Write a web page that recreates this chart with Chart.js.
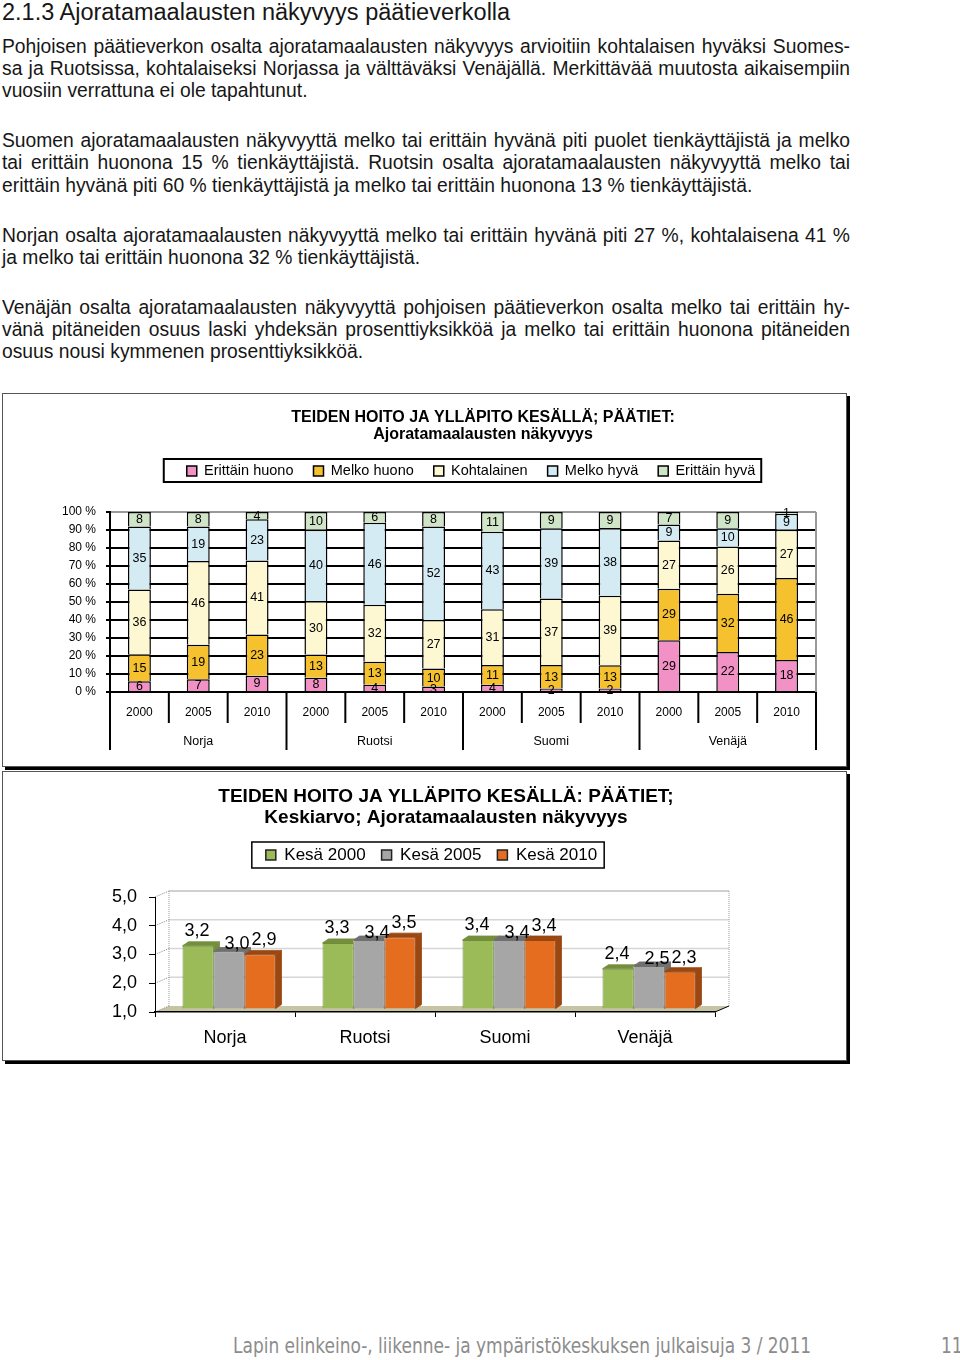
<!DOCTYPE html>
<html lang="fi">
<head>
<meta charset="utf-8">
<title>Ajoratamaalausten näkyvyys päätieverkolla</title>
<script src="https://cdn.jsdelivr.net/npm/chart.js@4.4.1/dist/chart.umd.min.js"></script>
<style>
html,body{margin:0;padding:0;background:#fff;overflow:hidden}
body{position:relative;width:960px;height:1360px;font-family:'Liberation Sans',Arial,sans-serif;color:#161616}
.t{position:absolute;left:2px;white-space:nowrap}
.h{font-size:23.5px;line-height:24px;top:0}
.p{font-size:19.3px;line-height:22px}
.j{width:848px;text-align:justify;text-align-last:justify;white-space:normal}
.box{position:absolute;left:2px;width:843px;border:1px solid #555;box-shadow:3px 3px 0 #000;background:#fff}
canvas{position:absolute;left:3px}
.foot{position:absolute;top:1333px;font-family:'Liberation Sans Narrow','DejaVu Sans Condensed',sans-serif;font-size:21px;color:#8c8c8c;line-height:26px;white-space:nowrap;transform-origin:0 50%}
</style>
</head>
<body>
<div class="t h">2.1.3 Ajoratamaalausten näkyvyys päätieverkolla</div>
<div class="t p j" style="top:36px">Pohjoisen päätieverkon osalta ajoratamaalausten näkyvyys arvioitiin kohtalaisen hyväksi Suomes-</div>
<div class="t p j" style="top:58px">sa ja Ruotsissa, kohtalaiseksi Norjassa ja välttäväksi Venäjällä. Merkittävää muutosta aikaisempiin</div>
<div class="t p" style="top:80px">vuosiin verrattuna ei ole tapahtunut.</div>
<div class="t p j" style="top:130px">Suomen ajoratamaalausten näkyvyyttä melko tai erittäin hyvänä piti puolet tienkäyttäjistä ja melko</div>
<div class="t p j" style="top:152px">tai erittäin huonona 15 % tienkäyttäjistä. Ruotsin osalta ajoratamaalausten näkyvyyttä melko tai</div>
<div class="t p" style="top:175px">erittäin hyvänä piti 60 % tienkäyttäjistä ja melko tai erittäin huonona 13 % tienkäyttäjistä.</div>
<div class="t p j" style="top:225px">Norjan osalta ajoratamaalausten näkyvyyttä melko tai erittäin hyvänä piti 27 %, kohtalaisena 41 %</div>
<div class="t p" style="top:247px">ja melko tai erittäin huonona 32 % tienkäyttäjistä.</div>
<div class="t p j" style="top:297px">Venäjän osalta ajoratamaalausten näkyvyyttä pohjoisen päätieverkon osalta melko tai erittäin hy-</div>
<div class="t p j" style="top:319px">vänä pitäneiden osuus laski yhdeksän prosenttiyksikköä ja melko tai erittäin huonona pitäneiden</div>
<div class="t p" style="top:341px">osuus nousi kymmenen prosenttiyksikköä.</div>

<div class="box" style="top:393px;height:372px"></div>
<canvas id="c1" width="844" height="372" style="top:394px"></canvas>
<div class="box" style="top:771px;height:288px"></div>
<canvas id="c2" width="844" height="288" style="top:772px"></canvas>

<div class="foot" style="left:233px;transform:scaleX(0.9)">Lapin elinkeino-, liikenne- ja ympäristökeskuksen julkaisuja 3 / 2011</div>
<div class="foot" style="left:941px;transform:scaleX(0.9)">11</div>

<script>
// ---------- data: chart 1 (100 % stacked) ----------
const categories = ['2000','2005','2010','2000','2005','2010','2000','2005','2010','2000','2005','2010'];
const groupLabels = ['Norja','Ruotsi','Suomi','Venäjä'];
const seriesNames = ['Erittäin huono','Melko huono','Kohtalainen','Melko hyvä','Erittäin hyvä'];
const erittainHuono = [6, 7, 9,   8, 4, 3,   4, 2, 2,   29, 22, 18];
const melkoHuono    = [15, 19, 23, 13, 13, 10, 11, 13, 13, 29, 32, 46];
const kohtalainen   = [36, 46, 41, 30, 32, 27, 31, 37, 39, 27, 26, 27];
const melkoHyva     = [35, 19, 23, 40, 46, 52, 43, 39, 38, 9, 10, 9];
const erittainHyva  = [8, 8, 4,   10, 6, 8,  11, 9, 9,   7, 9, 1];
const yTickSuffix = ' %';

// ---------- data: chart 2 (averages) ----------
const countries = ['Norja','Ruotsi','Suomi','Venäjä'];
const kesa2000 = [3.2, 3.3, 3.4, 2.4];
const kesa2005 = [3.0, 3.4, 3.4, 2.5];
const kesa2010 = [2.9, 3.5, 3.4, 2.3];
const seriesNames2 = ['Kesä 2000','Kesä 2005','Kesä 2010'];

const FONT = "'Liberation Sans', Arial, sans-serif";
Chart.defaults.font.family = FONT;
Chart.defaults.color = '#000';

const seriesValues = [erittainHuono, melkoHuono, kohtalainen, melkoHyva, erittainHyva];
const seriesColors = ['#f191c5', '#f5c12f', '#fdf8d2', '#d4ebf4', '#d0e5c8'];
const totals = categories.map((_, i) => seriesValues.reduce((s, arr) => s + arr[i], 0));

function line(ctx, x1, y1, x2, y2) { ctx.beginPath(); ctx.moveTo(x1, y1); ctx.lineTo(x2, y2); ctx.stroke(); }

// Positions title and legend, draws the legend frame
const placeHeader = {
  id: 'placeHeader',
  afterLayout(chart, args, o) {
    const t = chart.titleBlock;
    if (t) {
      const w = t.right - t.left, h = t.height;
      t.left = o.titleX - w / 2; t.right = o.titleX + w / 2;
      t.top = o.titleTop; t.bottom = t.top + h;
    }
    const l = chart.legend;
    if (l) {
      const w = l.right - l.left, h = l.height;
      l.left = o.legendX - w / 2; l.right = o.legendX + w / 2;
      l.top = o.legendY - o.legendPad - o.itemHeight / 2; l.bottom = l.top + h;
    }
  },
  afterDraw(chart, args, o) {
    const hb = chart.legend && chart.legend.legendHitBoxes;
    if (!hb || !hb.length) return;
    const ctx = chart.ctx;
    const first = hb[0], last = hb[hb.length - 1];
    const x1 = first.left - o.frameL, x2 = last.left + last.width + o.frameR;
    const y1 = o.legendY - o.frameUp, y2 = o.legendY + o.frameDown;
    ctx.save();
    ctx.strokeStyle = '#000'; ctx.lineWidth = o.frameWidth;
    ctx.strokeRect(x1, y1, x2 - x1, y2 - y1);
    ctx.restore();
  }
};

// Value labels inside the stacked segments
const stackLabels = {
  id: 'stackLabels',
  afterDatasetsDraw(chart) {
    const ctx = chart.ctx;
    ctx.save();
    ctx.font = '12.5px ' + FONT; ctx.fillStyle = '#000';
    ctx.textAlign = 'center'; ctx.textBaseline = 'middle';
    chart.data.datasets.forEach((ds, di) => {
      chart.getDatasetMeta(di).data.forEach((el, i) => {
        const p = el.getProps(['x', 'y', 'base'], true);
        ctx.fillText(String(seriesValues[di][i]), p.x, (p.y + p.base) / 2 + 0.5);
      });
    });
    ctx.restore();
  }
};

// Category separators for the two-level x axis + gray plot border
const separators = {
  id: 'separators',
  afterDraw(chart) {
    const ctx = chart.ctx, xs = chart.scales.x, ca = chart.chartArea;
    const n = categories.length;
    const step = xs.getPixelForValue(1) - xs.getPixelForValue(0);
    const x0 = xs.getPixelForValue(0) - step / 2;
    ctx.save();
    ctx.strokeStyle = '#999'; ctx.lineWidth = 2;
    line(ctx, ca.right, ca.top, ca.right, ca.bottom);
    ctx.strokeStyle = '#000';
    for (let i = 0; i <= n; i++) {
      const px = x0 + i * step;
      line(ctx, px, ca.bottom, px, ca.bottom + (i % 3 === 0 ? 58 : 31));
    }
    ctx.restore();
  }
};

new Chart(document.getElementById('c1'), {
  type: 'bar',
  data: {
    labels: categories,
    datasets: seriesNames.map((name, k) => ({
      label: name,
      data: seriesValues[k].map((v, i) => v / totals[i] * 100),
      backgroundColor: seriesColors[k],
      borderColor: '#000',
      borderWidth: 1.5,
      barPercentage: 0.39,
      categoryPercentage: 1,
      xAxisID: 'x'
    }))
  },
  options: {
    responsive: false, animation: false, devicePixelRatio: 1,
    layout: { padding: { left: 0, right: 31, top: 39.5, bottom: 0 } },
    plugins: {
      title: {
        display: true,
        text: ['TEIDEN HOITO JA YLLÄPITO KESÄLLÄ; PÄÄTIET:', 'Ajoratamaalausten näkyvyys'],
        font: { size: 16, weight: 'bold', lineHeight: '17px' }, padding: 0, color: '#000'
      },
      legend: {
        display: true,
        labels: { boxWidth: 10, boxHeight: 10, padding: 20, font: { size: 14.5 }, color: '#000' }
      },
      tooltip: { enabled: false },
      placeHeader: {
        titleX: 480, titleTop: 15.5, legendX: 468, legendY: 77, legendPad: 20, itemHeight: 14.5,
        frameL: 23, frameR: 6, frameUp: 12, frameDown: 11, frameWidth: 2
      }
    },
    scales: {
      x: {
        stacked: true,
        grid: { display: false, drawTicks: false },
        border: { display: true, color: '#000', width: 2 },
        ticks: { padding: 13, font: { size: 12 }, color: '#000', maxRotation: 0, autoSkip: false },
        afterFit(s) { s.height = 39; }
      },
      x2: {
        type: 'category', labels: groupLabels, position: 'bottom', offset: true, weight: 1,
        grid: { display: false, drawTicks: false },
        border: { display: false },
        ticks: { padding: 3, font: { size: 12.5 }, color: '#000', maxRotation: 0 },
        afterFit(s) { s.height = 35; }
      },
      y: {
        stacked: true, min: 0, max: 100,
        ticks: { stepSize: 10, callback: v => v + yTickSuffix, padding: 10, font: { size: 12 }, color: '#000' },
        grid: {
          color: c => (c.tick && c.tick.value === 100) ? '#999' : '#000',
          lineWidth: 2, tickLength: 4, tickColor: '#000'
        },
        border: { color: '#000', width: 2 },
        afterFit(s) { s.width = 107; }
      }
    }
  },
  plugins: [placeHeader, stackLabels, separators]
});

// ---------- chart 2: pseudo-3D clustered columns ----------
const faceColors = ['#748f3c', '#6f6f6f', '#9a4712'];
const labelOffsets = [[-1, -15], [8, -7], [4, -14]];

const wall3d = {
  id: 'wall3d',
  beforeDraw(chart, args, o) {
    const { ctx, chartArea: ca } = chart; const y = chart.scales.y;
    const dx = o.wallDx, dy = o.wallDy;
    ctx.save();
    ctx.fillStyle = '#c7c4a4';
    ctx.beginPath();
    ctx.moveTo(ca.left, ca.bottom); ctx.lineTo(ca.left + dx, ca.bottom - dy);
    ctx.lineTo(ca.right + dx, ca.bottom - dy); ctx.lineTo(ca.right, ca.bottom);
    ctx.closePath(); ctx.fill();
    y.ticks.forEach(t => {
      const fy = y.getPixelForValue(t.value);
      if (t.value > y.min) {
        ctx.strokeStyle = t.value === y.max ? '#c0c0c0' : '#d6d6d6'; ctx.lineWidth = 1.5;
        line(ctx, ca.left + dx, fy - dy, ca.right + dx, fy - dy);
      }
      ctx.strokeStyle = '#8a8a8a'; ctx.lineWidth = 1; ctx.setLineDash([1, 1]);
      line(ctx, ca.left, fy, ca.left + dx, fy - dy);
      ctx.setLineDash([]);
    });
    const top = y.getPixelForValue(y.max) - dy;
    ctx.strokeStyle = '#9a9a9a'; ctx.lineWidth = 1; ctx.setLineDash([1, 1]);
    line(ctx, ca.left + dx, top, ca.left + dx, ca.bottom - dy);
    line(ctx, ca.right + dx, top, ca.right + dx, ca.bottom - dy);
    ctx.setLineDash([]);
    ctx.strokeStyle = '#000'; ctx.lineWidth = 1;
    line(ctx, ca.right, ca.bottom, ca.right + dx, ca.bottom - dy);
    ctx.restore();
  },
  beforeDatasetsDraw(chart, args, o) {
    chart.ctx.save();
    chart.ctx.translate(o.barDx, -o.barDy);
  },
  afterDatasetsDraw(chart, args, o) {
    const ctx = chart.ctx;
    const nDs = chart.data.datasets.length;
    const rects = chart.data.datasets.map((ds, di) =>
      chart.getDatasetMeta(di).data.map(el => {
        const p = el.getProps(['x', 'y', 'base', 'width'], true);
        return { l: p.x - p.width / 2, r: p.x + p.width / 2, t: p.y, b: p.base, x: p.x };
      }));
    const W = chart.width, H = chart.height, d = o.depthX, e = o.depthY;
    for (let i = 0; i < countries.length; i++) {
      for (let di = 0; di < nDs; di++) {
        const r = rects[di][i];
        ctx.save();
        ctx.beginPath();
        ctx.rect(-50, -50, W + 100, H + 100);
        if (di + 1 < nDs) { const q = rects[di + 1][i]; ctx.rect(q.l, q.t, q.r - q.l, q.b - q.t); }
        ctx.clip('evenodd');
        ctx.fillStyle = faceColors[di];
        ctx.strokeStyle = faceColors[di]; ctx.lineWidth = 0.8;
        ctx.beginPath();
        ctx.moveTo(r.r, r.t); ctx.lineTo(r.r + d, r.t - e); ctx.lineTo(r.r + d, r.b - e); ctx.lineTo(r.r, r.b);
        ctx.closePath(); ctx.fill(); ctx.stroke();
        ctx.beginPath();
        ctx.moveTo(r.l, r.t); ctx.lineTo(r.l + d, r.t - e); ctx.lineTo(r.r + d, r.t - e); ctx.lineTo(r.r, r.t);
        ctx.closePath(); ctx.fill(); ctx.stroke();
        ctx.restore();
      }
    }
    ctx.font = '18px ' + FONT; ctx.fillStyle = '#000';
    ctx.textAlign = 'center'; ctx.textBaseline = 'middle';
    chart.data.datasets.forEach((ds, di) => {
      rects[di].forEach((r, i) => {
        const txt = ds.data[i].toFixed(1).replace('.', ',');
        ctx.fillText(txt, r.x + labelOffsets[di][0], r.t + labelOffsets[di][1]);
      });
    });
    ctx.restore();
  }
};

const barColors2 = ['#9bbb59', '#a6a6a6', '#e46d1f'];
const barEdges2 = ['#6f8a3a', '#707070', '#9a4510'];
const seriesValues2 = [kesa2000, kesa2005, kesa2010];

new Chart(document.getElementById('c2'), {
  type: 'bar',
  data: {
    labels: countries,
    datasets: seriesNames2.map((name, k) => ({
      label: name,
      data: seriesValues2[k],
      base: 1,
      backgroundColor: barColors2[k],
      borderColor: barEdges2[k],
      borderWidth: 1,
      barPercentage: 1,
      categoryPercentage: 0.664,
      clip: false
    }))
  },
  options: {
    responsive: false, animation: false, devicePixelRatio: 1,
    layout: { padding: { left: 0, right: 132, top: 40, bottom: 0 } },
    plugins: {
      title: {
        display: true,
        text: ['TEIDEN HOITO JA YLLÄPITO KESÄLLÄ: PÄÄTIET;', 'Keskiarvo; Ajoratamaalausten näkyvyys'],
        font: { size: 19, weight: 'bold', lineHeight: '21px' }, padding: 0, color: '#000'
      },
      legend: {
        display: true,
        labels: {
          boxWidth: 10, boxHeight: 10, padding: 16, font: { size: 17 }, color: '#000',
          generateLabels: chart => Chart.defaults.plugins.legend.labels.generateLabels(chart)
            .map(it => Object.assign(it, { strokeStyle: '#222', lineWidth: 1.5 }))
        }
      },
      tooltip: { enabled: false },
      placeHeader: {
        titleX: 443, titleTop: 14.5, legendX: 428.5, legendY: 83, legendPad: 16, itemHeight: 17,
        frameL: 14, frameR: 7, frameUp: 13, frameDown: 13, frameWidth: 1.5
      },
      wall3d: { wallDx: 14, wallDy: 6, barDx: 4, barDy: 3, depthX: 6, depthY: 4 }
    },
    scales: {
      x: {
        grid: { drawOnChartArea: false, offset: true, tickLength: 5, color: '#000', lineWidth: 1 },
        border: { color: '#000', width: 1.5 },
        ticks: { padding: 10, font: { size: 18 }, color: '#000', maxRotation: 0 },
        afterFit(s) { s.height = 48; }
      },
      y: {
        min: 1, max: 5,
        ticks: { stepSize: 1, padding: 12, font: { size: 18 }, color: '#000',
                 callback: v => Number(v).toFixed(1).replace('.', ',') },
        grid: { drawOnChartArea: false, tickLength: 6, color: '#000' },
        border: { color: '#000', width: 1 },
        afterFit(s) { s.width = 152; }
      }
    }
  },
  plugins: [placeHeader, wall3d]
});
</script>
</body>
</html>
